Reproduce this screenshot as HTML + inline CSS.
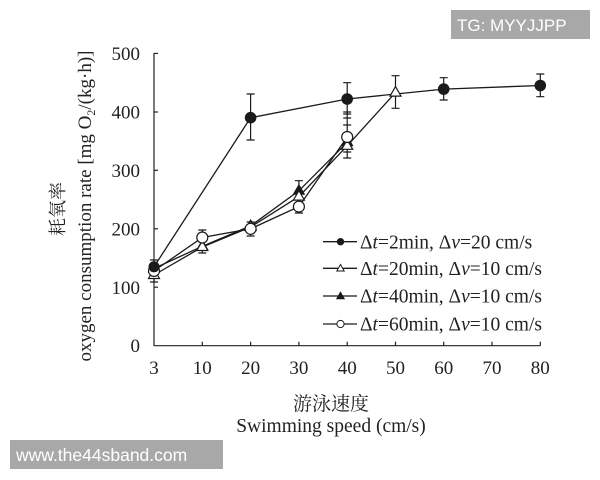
<!DOCTYPE html>
<html><head><meta charset="utf-8"><style>
html,body{margin:0;padding:0;background:#fff;}
svg{display:block;}
.t{font-family:"Liberation Serif","Noto Serif CJK SC",serif;fill:#222;}
.c{font-family:"Noto Serif CJK SC","Noto Sans CJK SC",serif;fill:#222;}
</style></head><body>
<svg width="600" height="480" viewBox="0 0 600 480" xmlns="http://www.w3.org/2000/svg">
<rect width="600" height="480" fill="#fff"/>
<g stroke="#222" stroke-width="1.2" fill="none">
<line x1="154" y1="53" x2="154" y2="346"/>
<line x1="154" y1="345.7" x2="540.3" y2="345.7"/>
<line x1="154" y1="53.4" x2="158" y2="53.4"/>
<line x1="154" y1="112" x2="158" y2="112"/>
<line x1="154" y1="170.3" x2="158" y2="170.3"/>
<line x1="154" y1="228.8" x2="158" y2="228.8"/>
<line x1="154" y1="287.2" x2="158" y2="287.2"/>
<line x1="202.3" y1="345.7" x2="202.3" y2="341.7"/>
<line x1="250.6" y1="345.7" x2="250.6" y2="341.7"/>
<line x1="298.9" y1="345.7" x2="298.9" y2="341.7"/>
<line x1="347.2" y1="345.7" x2="347.2" y2="341.7"/>
<line x1="395.5" y1="345.7" x2="395.5" y2="341.7"/>
<line x1="443.7" y1="345.7" x2="443.7" y2="341.7"/>
<line x1="492" y1="345.7" x2="492" y2="341.7"/>
<line x1="540.3" y1="345.7" x2="540.3" y2="341.7"/>
</g>
<g class="t" font-size="19" text-anchor="end">
<text x="140" y="60">500</text>
<text x="140" y="118.5">400</text>
<text x="140" y="177">300</text>
<text x="140" y="235.5">200</text>
<text x="140" y="294">100</text>
<text x="140" y="352">0</text>
</g>
<g class="t" font-size="19" text-anchor="middle">
<text x="154" y="374">3</text>
<text x="202.3" y="374">10</text>
<text x="250.6" y="374">20</text>
<text x="298.9" y="374">30</text>
<text x="347.2" y="374">40</text>
<text x="395.5" y="374">50</text>
<text x="443.7" y="374">60</text>
<text x="492" y="374">70</text>
<text x="540.3" y="374">80</text>
</g>
<text class="c" x="331" y="410" font-size="19" text-anchor="middle">游泳速度</text>
<text class="t" x="331" y="432" font-size="19.5" text-anchor="middle">Swimming speed (cm/s)</text>
<text class="c" transform="translate(64,209) rotate(-90)" font-size="18" text-anchor="middle">耗氧率</text>
<text class="t" transform="translate(91,206) rotate(-90)" font-size="19" text-anchor="middle">oxygen consumption rate [mg O<tspan font-size="12" dy="4">2</tspan><tspan dy="-4">/(kg·h)]</tspan></text>

<g stroke="#1a1a1a" stroke-width="1.3" fill="none">
<polyline points="154,266.8 250.6,117.7 347.2,99 443.7,89.1 540.3,85.5"/>
<polyline points="154,275 202.3,247 250.6,227 298.9,196.6 347.2,145.8 395.5,92.6"/>
<polyline points="154,268.5 202.3,246.3 250.6,225.9 298.9,190.8 347.2,142.3"/>
<polyline points="154,270.9 202.3,237.5 250.6,228.8 298.9,206.6 347.2,137"/>
</g>
<g stroke="#1a1a1a" stroke-width="1.2" fill="none">
<path d="M154,260V282 M150,260H158 M150,282H158"/>
<path d="M250.6,94V140 M246.6,94H254.6 M246.6,140H254.6"/>
<path d="M347.2,82.7V114 M343.2,82.7H351.2 M343.2,114H351.2"/>
<path d="M443.7,77.7V100 M439.7,77.7H447.7 M439.7,100H447.7"/>
<path d="M540.3,74V96.7 M536.3,74H544.3 M536.3,96.7H544.3"/>
<path d="M395.5,75.7V108.3 M391.5,75.7H399.5 M391.5,108.3H399.5"/>
<path d="M347.2,112V158 M343.2,112H351.2 M343.2,118H351.2 M343.2,125H351.2 M343.2,152H351.2 M343.2,158H351.2"/>
<path d="M298.9,180.7V213 M294.9,180.7H302.9 M294.9,213H302.9"/>
<path d="M250.6,222V236 M246.6,222H254.6 M246.6,236H254.6"/>
<path d="M202.3,230V253 M198.3,230H206.3 M198.3,253H206.3"/>
</g>
<g fill="#1a1a1a" stroke="#1a1a1a" stroke-width="1">
<path d="M154,262.5 L159.5,272 L148.5,272Z"/>
<path d="M202.3,240.3 L207.8,249.8 L196.8,249.8Z"/>
<path d="M250.6,219.9 L256.1,229.4 L245.1,229.4Z"/>
<path d="M298.9,184.8 L304.4,194.3 L293.4,194.3Z"/>
<path d="M347.2,136.3 L352.7,145.8 L341.7,145.8Z"/>
</g>
<g fill="#fff" stroke="#1a1a1a" stroke-width="1.2">
<path d="M154,269 L159.5,278.5 L148.5,278.5Z"/>
<path d="M202.3,241 L207.8,250.5 L196.8,250.5Z"/>
<path d="M250.6,221 L256.1,230.5 L245.1,230.5Z"/>
<path d="M298.9,190.6 L304.4,200.1 L293.4,200.1Z"/>
<path d="M347.2,139.8 L352.7,149.3 L341.7,149.3Z"/>
<path d="M395.5,86.6 L401,96.1 L390,96.1Z"/>
</g>
<g fill="#fff" stroke="#1a1a1a" stroke-width="1.2">
<circle cx="154" cy="270.9" r="5.5"/>
<circle cx="202.3" cy="237.5" r="5.5"/>
<circle cx="250.6" cy="228.8" r="5.5"/>
<circle cx="298.9" cy="206.6" r="5.5"/>
<circle cx="347.2" cy="137" r="5.5"/>
</g>
<g fill="#1a1a1a">
<circle cx="154" cy="266.8" r="5.5"/>
<circle cx="250.6" cy="117.7" r="5.8"/>
<circle cx="347.2" cy="99" r="5.8"/>
<circle cx="443.7" cy="89.1" r="5.8"/>
<circle cx="540.3" cy="85.5" r="5.8"/>
</g>

<g stroke="#1a1a1a" stroke-width="1.3">
<line x1="323" y1="241.7" x2="357" y2="241.7"/>
<line x1="323" y1="268.3" x2="357" y2="268.3"/>
<line x1="323" y1="296" x2="357" y2="296"/>
<line x1="323" y1="324" x2="357" y2="324"/>
</g>
<circle cx="340.5" cy="241.7" r="3.7" fill="#1a1a1a"/>
<path d="M340.5,264.5 L344.2,271 L336.8,271Z" fill="#fff" stroke="#1a1a1a" stroke-width="1"/>
<path d="M340.5,292.2 L344.2,298.7 L336.8,298.7Z" fill="#1a1a1a" stroke="#1a1a1a" stroke-width="1"/>
<circle cx="340.5" cy="324" r="3.6" fill="#fff" stroke="#1a1a1a" stroke-width="1"/>
<g class="t" font-size="19.5">
<text x="360" y="248.5">Δ<tspan font-style="italic">t</tspan>=2min, Δ<tspan font-style="italic">v</tspan>=20 cm/s</text>
<text x="360" y="275">Δ<tspan font-style="italic">t</tspan>=20min, Δ<tspan font-style="italic">v</tspan>=10 cm/s</text>
<text x="360" y="302.7">Δ<tspan font-style="italic">t</tspan>=40min, Δ<tspan font-style="italic">v</tspan>=10 cm/s</text>
<text x="360" y="330.7">Δ<tspan font-style="italic">t</tspan>=60min, Δ<tspan font-style="italic">v</tspan>=10 cm/s</text>
</g>

<rect x="451" y="10" width="139" height="29" fill="#a8a8a8"/>
<text x="457" y="31" font-family="Liberation Sans, sans-serif" font-size="17" fill="#fff">TG: MYYJJPP</text>
<rect x="10" y="440" width="213" height="29" fill="#a8a8a8"/>
<text x="16" y="461" font-family="Liberation Sans, sans-serif" font-size="17.5" fill="#fff">www.the44sband.com</text>
</svg>
</body></html>
